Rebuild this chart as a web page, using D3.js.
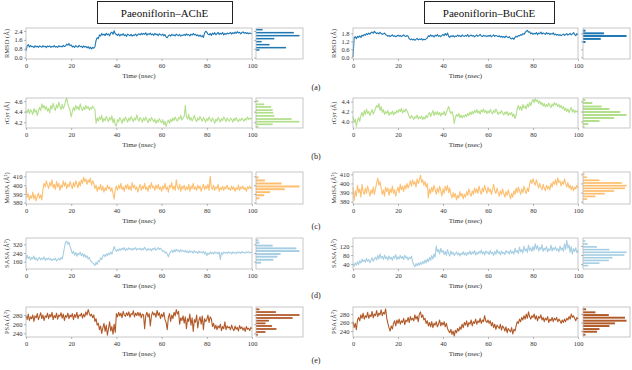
<!DOCTYPE html>
<html>
<head>
<meta charset="utf-8">
<script src="https://cdn.jsdelivr.net/npm/d3@7"></script>
<style>
  body { margin: 0; background: #fff; }
  svg { display: block; font-family: "Liberation Serif", "DejaVu Serif", serif; }
</style>
</head>
<body>
<svg id="chart" width="632" height="370"></svg>
<script>
// ---- text ----
const titles = ["Paeoniflorin\u2013AChE", "Paeoniflorin\u2013BuChE"];
const panelLetters = ["(a)", "(b)", "(c)", "(d)", "(e)"];
const metricLabels = ["RMSD (\u00c5)", "rGyr (\u00c5)", "MolSA (\u00c5\u00b2)", "SASA (\u00c5\u00b2)", "PSA (\u00c5\u00b2)"];
const xTicks = [0, 20, 40, 60, 80, 100];
const timeLabel = "Time (nsec)";

// ---- time series, one sample every 0.5 ns (0..100) ----
const rmsdAChE = [
  0.62,1.05,1.18,0.95,1.10,0.98,1.02,0.90,1.08,0.96,1.04,0.92,1.06,1.00,0.94,1.08,0.97,1.03,0.91,1.05,
  0.99,1.06,0.93,1.02,0.97,1.09,0.95,1.01,0.92,1.07,0.98,1.04,0.96,1.10,1.00,1.05,1.22,1.12,1.28,1.08,
  1.15,0.96,1.05,0.92,1.08,1.00,0.94,1.12,0.98,1.03,0.90,1.06,0.95,1.02,0.88,1.00,0.82,0.95,0.78,0.92,
  0.85,0.98,1.55,1.80,1.72,2.05,1.95,2.18,2.02,2.12,1.98,2.20,2.05,2.15,1.96,2.22,2.30,2.10,2.42,2.15,
  2.08,2.00,2.14,1.95,2.10,2.02,2.16,1.97,2.06,1.92,2.12,2.03,1.98,2.10,1.94,2.05,2.00,2.13,1.96,2.08,
  2.15,2.04,2.20,2.08,2.18,2.10,2.24,2.02,2.16,2.09,2.21,2.05,2.14,2.00,2.18,2.07,2.12,1.98,2.15,2.06,
  2.02,2.12,1.96,2.08,1.85,1.80,1.98,2.05,1.94,2.10,2.00,2.06,1.95,2.12,2.03,1.98,2.09,1.93,2.04,2.00,
  2.10,1.98,2.14,2.03,2.08,1.95,2.12,2.02,2.18,2.05,2.10,1.97,2.06,1.92,2.04,1.88,1.98,1.82,2.20,2.38,
  2.30,2.12,2.05,2.18,2.00,2.22,2.10,2.25,2.06,2.15,2.28,2.08,2.20,2.12,2.26,2.04,2.18,2.10,2.22,2.14,
  2.20,2.28,2.12,2.25,2.16,2.30,2.18,2.34,2.22,2.28,2.14,2.26,2.32,2.20,2.27,2.17,2.24,2.15,2.22,2.18,
  2.16
];
const rmsdBuChE = [
  0.02,1.45,1.55,1.40,1.58,1.50,1.62,1.48,1.66,1.60,1.72,1.65,1.78,1.70,1.82,1.74,1.85,1.90,1.80,1.95,
  1.86,1.78,1.84,1.75,1.88,1.80,1.72,1.76,1.82,1.70,1.66,1.58,1.64,1.55,1.62,1.68,1.57,1.63,1.54,1.60,
  1.66,1.58,1.64,1.55,1.62,1.68,1.60,1.56,1.63,1.58,1.40,1.32,1.38,1.30,1.36,1.28,1.35,1.42,1.31,1.37,
  1.33,1.40,1.29,1.36,1.32,1.38,1.45,1.62,1.55,1.68,1.58,1.64,1.52,1.66,1.60,1.70,1.57,1.63,1.55,1.65,
  1.72,1.62,1.78,1.65,1.82,1.58,1.50,1.62,1.55,1.64,1.52,1.60,1.56,1.66,1.58,1.63,1.54,1.68,1.60,1.57,
  1.65,1.58,1.70,1.55,1.62,1.67,1.59,1.64,1.53,1.61,1.68,1.57,1.63,1.72,1.60,1.56,1.65,1.59,1.62,1.55,
  1.63,1.58,1.66,1.54,1.61,1.68,1.57,1.64,1.60,1.55,1.62,1.52,1.58,1.50,1.56,1.48,1.60,1.53,1.47,1.55,
  1.42,1.38,1.45,1.35,1.50,1.58,1.52,1.64,1.60,1.70,1.66,1.78,1.72,1.85,1.96,2.02,1.88,1.92,1.76,1.84,
  1.72,1.80,1.75,1.86,1.70,1.82,1.77,1.90,1.74,1.83,1.78,1.72,1.85,1.76,1.81,1.70,1.79,1.74,1.84,1.68,
  1.75,1.66,1.72,1.64,1.70,1.62,1.68,1.74,1.65,1.71,1.78,1.67,1.73,1.80,1.68,1.76,1.85,1.72,1.62,1.78,
  1.70
];
const rgyrAChE = [
  4.42,4.38,4.45,4.36,4.44,4.40,4.35,4.46,4.39,4.43,4.33,4.41,4.48,4.42,4.55,4.47,4.52,4.44,4.50,4.41,
  4.46,4.38,4.52,4.45,4.56,4.48,4.42,4.53,4.47,4.58,4.50,4.44,4.54,4.46,4.51,4.60,4.66,4.55,4.48,4.42,
  4.30,4.40,4.48,4.42,4.52,4.45,4.50,4.43,4.55,4.47,4.42,4.49,4.44,4.52,4.46,4.50,4.43,4.48,4.45,4.51,
  4.47,4.44,4.18,4.28,4.22,4.30,4.25,4.33,4.20,4.27,4.23,4.31,4.26,4.21,4.29,4.24,4.32,4.19,4.27,4.15,
  4.13,4.25,4.21,4.29,4.24,4.18,4.27,4.22,4.30,4.25,4.20,4.28,4.23,4.31,4.26,4.21,4.28,4.24,4.34,4.26,
  4.22,4.29,4.25,4.20,4.28,4.23,4.30,4.24,4.19,4.27,4.22,4.29,4.25,4.21,4.26,4.18,4.24,4.20,4.27,4.22,
  4.19,4.25,4.15,4.22,4.12,4.20,4.24,4.18,4.26,4.21,4.28,4.23,4.30,4.25,4.22,4.29,4.26,4.33,4.24,4.28,
  4.31,4.52,4.30,4.26,4.35,4.24,4.29,4.22,4.27,4.33,4.25,4.21,4.28,4.24,4.31,4.26,4.22,4.29,4.25,4.20,
  4.27,4.23,4.30,4.25,4.21,4.28,4.24,4.18,4.26,4.22,4.29,4.25,4.20,4.27,4.23,4.30,4.26,4.21,4.28,4.24,
  4.22,4.28,4.25,4.20,4.27,4.23,4.29,4.24,4.21,4.26,4.23,4.28,4.25,4.22,4.27,4.24,4.30,4.25,4.28,4.26,
  4.27
];
const rgyrBuChE = [
  4.10,3.98,4.05,3.90,4.02,4.08,4.00,4.12,4.18,4.10,4.22,4.14,4.25,4.16,4.20,4.12,4.18,4.24,4.15,4.20,
  4.26,4.32,4.28,4.36,4.22,4.30,4.18,4.24,4.14,4.20,4.16,4.22,4.12,4.18,4.15,4.21,4.13,4.19,4.16,4.22,
  4.18,4.24,4.20,4.26,4.17,4.23,4.19,4.25,4.21,4.16,4.10,4.06,4.12,4.08,4.04,4.10,4.07,4.13,4.05,4.09,
  4.06,4.11,4.04,4.09,4.05,4.12,4.08,4.14,4.18,4.10,4.16,4.22,4.12,4.19,4.14,4.20,4.13,4.18,4.11,4.17,
  4.14,4.20,4.12,4.18,4.24,4.30,4.22,4.16,4.20,4.12,3.96,4.08,4.14,4.10,4.16,4.08,4.13,4.07,4.12,4.09,
  4.14,4.10,4.16,4.12,4.19,4.14,4.20,4.15,4.22,4.18,4.24,4.17,4.21,4.15,4.23,4.19,4.25,4.18,4.22,4.16,
  4.21,4.17,4.24,4.19,4.15,4.22,4.18,4.25,4.20,4.14,4.19,4.16,4.22,4.17,4.13,4.19,4.15,4.20,4.12,4.17,
  4.14,4.18,4.10,4.15,4.06,4.12,4.26,4.32,4.24,4.30,4.22,4.34,4.27,4.31,4.25,4.35,4.29,4.38,4.32,4.40,
  4.44,4.38,4.46,4.40,4.43,4.36,4.41,4.34,4.38,4.31,4.36,4.29,4.34,4.30,4.37,4.32,4.28,4.35,4.31,4.38,
  4.33,4.36,4.30,4.34,4.28,4.32,4.26,4.30,4.22,4.27,4.20,4.25,4.18,4.23,4.28,4.19,4.24,4.17,4.22,4.19,
  4.21
];
const molsaAChE = [
  398,386,390,383,388,385,392,384,389,382,387,391,385,389,383,395,402,398,405,400,
  396,403,399,406,397,401,395,404,398,402,394,400,397,405,399,403,396,401,398,404,
  400,396,403,398,405,401,397,404,399,406,402,409,404,407,401,406,403,408,400,405,
  402,396,400,393,398,395,401,394,399,392,397,394,400,396,398,393,397,391,384,395,
  399,394,400,396,402,395,398,393,400,396,401,395,399,394,403,397,400,395,398,392,
  397,401,394,399,396,402,395,398,393,400,396,403,397,399,394,400,396,401,395,398,
  393,399,396,402,395,398,392,400,397,403,395,399,394,406,398,395,401,393,399,396,
  400,394,398,395,401,393,399,396,402,395,398,394,400,396,399,393,397,401,395,399,
  396,401,394,410,398,395,400,394,398,396,401,393,397,395,399,394,398,396,400,395,
  397,394,399,395,398,393,397,395,400,394,398,396,399,395,397,393,398,396,399,396,
  397
];
const molsaBuChE = [
  396,381,392,386,398,390,394,385,399,391,388,395,389,397,392,386,393,389,396,388,
  394,400,406,398,402,395,388,393,386,396,391,395,387,394,390,397,389,393,386,392,
  396,390,399,393,397,391,398,394,400,395,398,403,397,404,399,402,396,405,400,403,
  409,401,404,398,402,396,400,384,394,389,396,391,398,393,388,395,390,397,392,386,
  394,389,397,392,398,390,395,388,384,390,385,389,382,387,384,391,386,389,383,388,
  385,391,387,394,389,386,392,388,395,390,394,389,397,392,388,395,391,398,393,389,
  396,391,394,388,393,399,392,389,395,390,386,392,388,394,389,385,391,387,393,388,
  383,389,385,392,388,395,390,396,392,388,394,390,397,392,389,395,391,399,404,400,
  405,401,398,404,399,395,400,396,393,399,395,392,398,394,397,393,400,396,402,399,
  404,398,406,401,403,397,402,399,405,400,396,401,395,398,393,397,392,396,394,398,
  395
];
const sasaAChE = [
  182,220,190,205,175,198,185,212,178,195,170,188,200,176,192,183,205,172,190,180,
  195,176,188,170,185,178,192,165,182,190,175,198,185,230,290,335,350,320,340,300,
  270,235,255,220,245,210,238,225,248,215,235,205,228,198,215,185,200,170,160,150,
  140,125,155,135,170,160,195,180,210,225,205,232,215,240,225,250,230,262,300,270,
  255,275,260,280,265,285,270,290,262,280,268,288,272,282,266,285,274,290,268,280,
  272,286,265,280,270,292,275,262,284,268,278,260,282,270,288,265,276,290,272,284,
  270,255,262,240,250,230,205,235,250,265,245,270,252,275,258,266,248,272,255,262,
  250,265,245,258,240,262,248,255,238,260,245,252,236,258,244,250,240,256,232,248,
  215,240,228,250,235,245,230,252,238,246,232,248,180,244,228,250,240,246,234,252,
  240,246,232,250,238,244,234,252,240,248,236,254,242,246,238,250,244,252,240,248,
  245
];
const sasaBuChE = [
  42,30,45,35,50,38,55,45,62,50,58,48,65,52,60,46,56,68,52,62,
  70,58,78,62,85,66,74,60,80,64,72,58,76,62,70,56,74,66,82,60,
  72,62,78,65,74,60,80,66,72,58,70,64,75,50,38,28,42,32,45,35,
  48,38,52,42,58,45,62,50,70,56,78,62,85,70,120,95,105,85,110,92,
  100,82,96,78,104,88,75,98,84,92,78,86,94,80,90,76,88,82,95,80,
  90,78,92,84,98,82,94,86,100,80,92,84,96,88,102,85,95,80,98,88,
  94,82,100,86,92,78,96,84,104,88,95,80,98,86,92,82,100,90,96,84,
  102,88,96,84,110,92,100,86,115,94,105,88,120,98,108,92,124,100,112,96,
  118,100,130,106,122,98,114,104,126,96,110,102,118,94,108,100,124,98,112,104,
  116,100,108,94,120,102,112,96,130,104,145,110,125,92,118,84,108,96,112,90,
  100
];
const psaAChE = [
  278,270,282,268,276,272,280,266,278,274,283,270,277,285,272,280,268,278,275,284,
  272,281,276,286,270,279,274,284,271,280,277,285,273,282,268,279,275,284,272,280,
  276,283,270,281,275,286,272,280,278,284,273,282,276,287,280,292,284,278,282,274,
  280,266,272,258,262,248,256,240,252,262,244,258,236,250,265,245,255,238,260,242,
  283,276,286,278,284,274,288,280,277,285,279,287,275,283,281,289,276,284,279,286,
  278,285,274,282,280,250,279,286,276,283,256,278,287,280,284,275,290,279,285,272,
  282,276,286,270,264,248,275,283,266,280,272,286,278,292,282,288,260,274,268,278,
  262,276,250,272,266,282,258,274,244,270,264,280,252,268,276,260,278,248,272,266,
  270,280,264,276,272,255,262,250,258,248,256,252,260,246,255,250,265,248,256,252,
  254,248,258,250,246,256,249,253,245,257,250,254,247,252,244,255,249,251,246,253,
  250
];
const psaBuChE = [
  262,248,258,243,266,272,264,278,270,282,268,276,272,284,270,278,274,286,271,280,
  276,288,274,282,278,290,276,284,280,292,270,258,248,240,252,245,258,264,252,266,
  258,268,256,264,260,270,255,266,262,272,260,274,266,270,264,278,268,275,262,280,
  285,272,278,266,270,258,264,252,260,250,262,248,258,254,262,250,256,266,252,260,
  254,262,250,258,246,240,236,244,232,240,228,242,236,246,240,250,244,256,248,260,
  254,264,250,260,256,266,252,262,258,268,256,264,260,270,258,266,262,276,264,260,
  266,258,264,252,260,248,256,244,254,250,246,256,242,252,248,240,250,236,246,242,
  238,248,233,244,240,252,262,258,268,262,272,266,276,268,280,270,285,274,268,276,
  272,280,268,276,264,274,270,278,266,272,262,270,266,274,260,268,264,272,262,270,
  266,272,262,268,264,258,266,260,268,262,270,266,274,268,280,272,276,270,264,272,
  268
];

// ---- histograms (bin centre, relative count) ----
const rmsdHistBinsAChE = [0.69, 0.90, 1.17, 1.44, 1.71, 1.98, 2.25, 2.52];
const rmsdHistCountsAChE = [11, 95, 43, 18, 58, 138, 120, 21];
const rmsdHistBinsBuChE = [1.15, 1.38, 1.60, 1.80, 2.00];
const rmsdHistCountsBuChE = [8, 55, 135, 65, 8];
const rgyrHistBinsAChE = [4.11, 4.16, 4.21, 4.26, 4.32, 4.38, 4.43, 4.49, 4.54, 4.60];
const rgyrHistCountsAChE = [8, 53, 138, 113, 58, 55, 53, 48, 26, 8];
const rgyrHistBinsBuChE = [3.89, 3.95, 4.01, 4.07, 4.13, 4.19, 4.25, 4.30, 4.37, 4.43];
const rgyrHistCountsBuChE = [5, 17, 53, 100, 140, 120, 85, 60, 30, 8];
const molsaHistBinsAChE = [385.0, 388.5, 392.0, 395.4, 398.5, 401.9, 405.4, 408.8];
const molsaHistCountsAChE = [11, 26, 45, 91, 138, 81, 28, 8];
const molsaHistBinsBuChE = [382.9, 385.8, 388.8, 391.7, 394.6, 397.5, 400.5, 403.4, 406.7, 410.0];
const molsaHistCountsBuChE = [13, 40, 70, 100, 135, 140, 125, 53, 13, 5];
const sasaHistBinsAChE = [151, 178, 206, 231, 258, 283, 308, 335, 357];
const sasaHistCountsAChE = [16, 55, 68, 78, 138, 128, 53, 11, 8];
const sasaHistBinsBuChE = [33, 44, 56, 68, 80, 92, 104, 116, 129, 142];
const sasaHistCountsBuChE = [17, 53, 83, 95, 133, 140, 85, 45, 15, 8];
const psaHistBinsAChE = [237.0, 242.9, 249.5, 256.0, 261.8, 267.6, 273.5, 280.0, 286.5, 292.4];
const psaHistCountsAChE = [6, 30, 65, 51, 30, 41, 116, 138, 63, 11];
const psaHistBinsBuChE = [231.4, 238.4, 244.7, 251.8, 258.0, 264.3, 271.4, 277.6, 284.0, 291.0];
const psaHistCountsBuChE = [8, 45, 53, 85, 103, 140, 135, 83, 40, 10];

// ---- y ticks ----
const rmsdTicksAChE = [0.0, 0.8, 1.6, 2.4];
const rmsdTicksBuChE = [0.0, 0.6, 1.2, 1.8];
const rgyrTicksAChE = [4.2, 4.4, 4.6];
const rgyrTicksBuChE = [4.0, 4.2, 4.4];
const molsaTicks = [380, 390, 400, 410];
const sasaTicksAChE = [160, 240, 320];
const sasaTicksBuChE = [40, 80, 120];
const psaTicks = [240, 260, 280];

// colours (ColorBrewer "Paired")
const lineColors = ["#1f78b4", "#b2df8a", "#fdbf6f", "#a6cee3", "#b15928"];

// ---- layout ----
const cols = [
  { x0: 26, x1: 252, h0: 256, h1: 303, labelX: 7, titleX: 97, titleW: 135 },
  { x0: 353, x1: 578, h0: 583, h1: 630, labelX: 334, titleX: 424, titleW: 130 }
];
const rows = [
  { top: 28, bottom: 59, letterY: 90 },
  { top: 98, bottom: 128, letterY: 159 },
  { top: 172, bottom: 204, letterY: 229 },
  { top: 238, bottom: 269, letterY: 298 },
  { top: 307, bottom: 337, letterY: 363 }
];

const panels = [
  { row: 0, col: 0, values: rmsdAChE, domain: [-0.12, 2.67], ticks: rmsdTicksAChE, fmt: ".1f", bins: rmsdHistBinsAChE, counts: rmsdHistCountsAChE },
  { row: 0, col: 1, values: rmsdBuChE, domain: [-0.13, 2.2], ticks: rmsdTicksBuChE, fmt: ".1f", bins: rmsdHistBinsBuChE, counts: rmsdHistCountsBuChE },
  { row: 1, col: 0, values: rgyrAChE, domain: [4.09, 4.66], ticks: rgyrTicksAChE, fmt: ".1f", bins: rgyrHistBinsAChE, counts: rgyrHistCountsAChE },
  { row: 1, col: 1, values: rgyrBuChE, domain: [3.87, 4.47], ticks: rgyrTicksBuChE, fmt: ".1f", bins: rgyrHistBinsBuChE, counts: rgyrHistCountsBuChE },
  { row: 2, col: 0, values: molsaAChE, domain: [378.5, 415], ticks: molsaTicks, fmt: "d", bins: molsaHistBinsAChE, counts: molsaHistCountsAChE },
  { row: 2, col: 1, values: molsaBuChE, domain: [377.5, 412.5], ticks: molsaTicks, fmt: "d", bins: molsaHistBinsBuChE, counts: molsaHistCountsBuChE },
  { row: 3, col: 0, values: sasaAChE, domain: [93, 378], ticks: sasaTicksAChE, fmt: "d", bins: sasaHistBinsAChE, counts: sasaHistCountsAChE },
  { row: 3, col: 1, values: sasaBuChE, domain: [18, 155.5], ticks: sasaTicksBuChE, fmt: "d", bins: sasaHistBinsBuChE, counts: sasaHistCountsBuChE },
  { row: 4, col: 0, values: psaAChE, domain: [232, 297.5], ticks: psaTicks, fmt: "d", bins: psaHistBinsAChE, counts: psaHistCountsAChE },
  { row: 4, col: 1, values: psaBuChE, domain: [226, 296.5], ticks: psaTicks, fmt: "d", bins: psaHistBinsBuChE, counts: psaHistCountsBuChE }
];

const svg = d3.select("#chart");
const frameColor = "#b8b8b8";

// titles in boxes
cols.forEach((c, i) => {
  svg.append("rect")
    .attr("x", c.titleX + 0.5).attr("y", 1.5)
    .attr("width", c.titleW).attr("height", 22)
    .attr("fill", "#fff").attr("stroke", "#222").attr("stroke-width", 1);
  svg.append("text")
    .attr("x", c.titleX + c.titleW / 2).attr("y", 16.5)
    .attr("text-anchor", "middle")
    .attr("font-size", 11).attr("fill", "#111")
    .text(titles[i]);
});

// panel letters
rows.forEach((r, i) => {
  svg.append("text")
    .attr("x", 316).attr("y", r.letterY)
    .attr("text-anchor", "middle")
    .attr("font-size", 8).attr("fill", "#222")
    .text(panelLetters[i]);
});

function styleAxis(g) {
  g.select(".domain").remove();
  g.selectAll(".tick line").attr("stroke", "#888").attr("stroke-width", 0.6);
  g.selectAll(".tick text")
    .attr("font-family", "'Liberation Serif', 'DejaVu Serif', serif")
    .attr("font-size", 6.5).attr("fill", "#333");
}

panels.forEach(p => {
  const col = cols[p.col], row = rows[p.row];
  const color = lineColors[p.row];
  const x = d3.scaleLinear().domain([0, 100]).range([col.x0, col.x1]);
  const y = d3.scaleLinear().domain(p.domain).range([row.bottom, row.top]);
  const step = 100 / (p.values.length - 1);
  const g = svg.append("g");

  // time series
  const line = d3.line()
    .x((d, i) => x(i * step))
    .y(d => y(d));
  g.append("path")
    .datum(p.values)
    .attr("d", line)
    .attr("fill", "none")
    .attr("stroke", color)
    .attr("stroke-width", 1.1)
    .attr("stroke-linejoin", "round");

  // frame
  g.append("rect")
    .attr("x", col.x0).attr("y", row.top)
    .attr("width", col.x1 - col.x0).attr("height", row.bottom - row.top)
    .attr("fill", "none").attr("stroke", frameColor).attr("stroke-width", 0.8);

  // axes
  g.append("g")
    .attr("transform", `translate(0,${row.bottom})`)
    .call(d3.axisBottom(x).tickValues(xTicks).tickSize(2).tickPadding(2))
    .call(styleAxis);
  g.append("g")
    .attr("transform", `translate(${col.x0},0)`)
    .call(d3.axisLeft(y).tickValues(p.ticks).tickSize(2).tickPadding(1.5).tickFormat(d3.format(p.fmt)))
    .call(styleAxis);

  // axis labels
  g.append("text")
    .attr("x", (col.x0 + col.x1) / 2).attr("y", row.bottom + 19)
    .attr("text-anchor", "middle")
    .attr("font-size", 7).attr("fill", "#333")
    .text(timeLabel);
  g.append("text")
    .attr("transform", `translate(${col.labelX},${(row.top + row.bottom) / 2}) rotate(-90)`)
    .attr("text-anchor", "middle")
    .attr("dy", "0.35em")
    .attr("font-size", 6.5).attr("fill", "#333")
    .text(metricLabels[p.row]);

  // histogram
  const xh = d3.scaleLinear().domain([0, d3.max(p.counts) * 1.08]).range([col.h0, col.h1]);
  const gap = Math.abs(y(p.bins[1]) - y(p.bins[0]));
  const th = gap * 0.65;
  g.selectAll("rect.bar")
    .data(p.bins)
    .enter().append("rect")
    .attr("class", "bar")
    .attr("x", xh(0))
    .attr("y", d => y(d) - th / 2)
    .attr("width", (d, i) => xh(p.counts[i]) - xh(0))
    .attr("height", th)
    .attr("fill", color);
  g.append("rect")
    .attr("x", col.h0).attr("y", row.top)
    .attr("width", col.h1 - col.h0).attr("height", row.bottom - row.top)
    .attr("fill", "none").attr("stroke", frameColor).attr("stroke-width", 0.8);
  g.append("g")
    .attr("transform", `translate(${col.h0},0)`)
    .call(d3.axisLeft(y).tickValues(p.ticks).tickSize(2).tickFormat(""))
    .call(styleAxis);
});
</script>
</body>
</html>
